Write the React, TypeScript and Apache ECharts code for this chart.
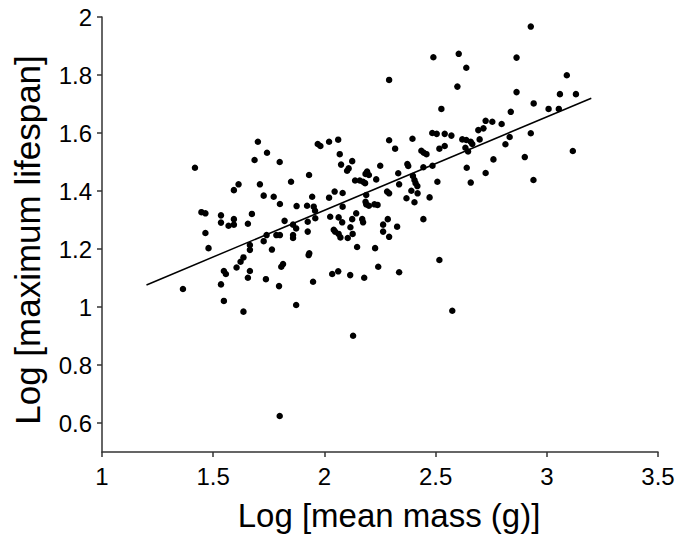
import React, { useEffect, useRef } from "react";
import * as echarts from "echarts";

const massX: number[] = [
  1.701, 1.742, 1.686, 1.799, 2.49, 2.604, 2.638, 2.291, 2.598, 2.526,
  2.725, 2.755, 2.797, 2.692, 2.715, 1.97, 1.982, 2.021, 2.062, 2.069,
  2.291, 2.318, 2.396, 2.485, 2.505, 2.541, 2.571, 2.62, 2.638, 2.658,
  2.698, 2.665, 2.517, 2.541, 2.634, 2.646, 2.436, 2.447, 2.459, 2.125,
  2.76, 2.928, 2.864, 3.09, 2.864, 3.059, 3.131, 2.941, 2.838, 3.008,
  3.054, 2.833, 2.928, 2.814, 2.901, 3.117, 1.418, 1.614, 1.593, 1.71,
  1.727, 1.772, 1.85, 1.8, 1.875, 1.447, 1.465, 1.535, 1.674, 1.593,
  1.535, 1.569, 1.593, 1.656, 1.821, 1.859, 1.873, 1.465, 1.74, 1.784,
  1.8, 1.859, 1.859, 1.665, 1.479, 1.665, 1.727, 1.764, 1.636, 1.623,
  1.605, 1.814, 1.806, 1.548, 1.557, 1.665, 1.656, 1.737, 1.535, 1.796,
  1.364, 1.548, 2.075, 2.109, 2.102, 2.251, 2.373, 2.377, 2.486, 2.445,
  2.64, 2.725, 2.658, 1.931, 2.138, 2.159, 2.174, 2.183, 2.192, 2.2,
  2.185, 2.233, 2.332, 2.398, 2.405, 2.41, 2.418, 2.336, 2.508, 2.046,
  2.082, 2.021, 1.945, 2.188, 2.282, 2.291, 2.391, 2.419, 2.369, 2.405,
  2.473, 1.922, 1.952, 1.958, 2.082, 2.185, 2.188, 2.2, 2.225, 2.239,
  1.925, 1.959, 2.026, 2.064, 2.08, 2.143, 2.125, 2.17, 2.174, 2.285,
  2.264, 2.327, 2.445, 1.925, 2.042, 2.048, 2.064, 2.072, 2.117, 2.127,
  2.105, 2.264, 2.291, 2.147, 2.228, 1.932, 1.929, 2.517, 2.242, 2.336,
  2.035, 2.062, 2.116, 2.179, 1.949, 2.94, 1.636, 1.873, 1.799, 2.129,
  2.575,
];

const lifespanY: number[] = [
  1.57, 1.532, 1.507, 1.5, 1.861, 1.873, 1.825, 1.783, 1.76, 1.683,
  1.642, 1.639, 1.631, 1.61, 1.616, 1.562, 1.555, 1.57, 1.577, 1.527,
  1.575, 1.546, 1.58, 1.6, 1.597, 1.597, 1.591, 1.578, 1.576, 1.57,
  1.578, 1.562, 1.546, 1.555, 1.549, 1.536, 1.539, 1.532, 1.527, 1.503,
  1.509, 1.967, 1.86, 1.799, 1.741, 1.734, 1.734, 1.702, 1.673, 1.683,
  1.683, 1.586, 1.599, 1.561, 1.517, 1.538, 1.48, 1.423, 1.403, 1.423,
  1.384, 1.38, 1.432, 1.355, 1.348, 1.327, 1.323, 1.316, 1.321, 1.303,
  1.291, 1.28, 1.284, 1.287, 1.297, 1.284, 1.271, 1.255, 1.248, 1.248,
  1.248, 1.248, 1.238, 1.214, 1.203, 1.197, 1.227, 1.198, 1.171, 1.156,
  1.136, 1.148, 1.139, 1.124, 1.114, 1.124, 1.101, 1.096, 1.078, 1.072,
  1.062, 1.021, 1.491, 1.478, 1.47, 1.487, 1.493, 1.486, 1.487, 1.482,
  1.48, 1.462, 1.429, 1.455, 1.436, 1.436, 1.432, 1.427, 1.467, 1.455,
  1.459, 1.44, 1.461, 1.452, 1.438, 1.427, 1.417, 1.423, 1.432, 1.398,
  1.393, 1.377, 1.38, 1.386, 1.398, 1.392, 1.401, 1.392, 1.375, 1.361,
  1.378, 1.349, 1.346, 1.332, 1.346, 1.363, 1.354, 1.349, 1.354, 1.352,
  1.294, 1.306, 1.311, 1.309, 1.292, 1.323, 1.303, 1.303, 1.292, 1.303,
  1.284, 1.277, 1.303, 1.26, 1.266, 1.26, 1.252, 1.24, 1.275, 1.252,
  1.238, 1.26, 1.242, 1.207, 1.203, 1.185, 1.179, 1.162, 1.139, 1.12,
  1.114, 1.123, 1.11, 1.101, 1.087, 1.438, 0.984, 1.007, 0.624, 0.901,
  0.987,
];

const fitX: number[] = [1.2, 3.2];
const fitY: number[] = [1.076, 1.72];

const yTickValues: number[] = [0.6, 0.8, 1, 1.2, 1.4, 1.6, 1.8, 2];

const xAxisTitle = "Log [mean mass (g)]";
const yAxisTitle = "Log [maximum lifespan]";

const FONT = "'Liberation Sans', Arial, Helvetica, sans-serif";

export default function App() {
  const ref = useRef<HTMLDivElement>(null);

  useEffect(() => {
    if (!ref.current) return;
    const chart = echarts.init(ref.current, undefined, { renderer: "svg" });
    const points = massX.map((x, i) => [x, lifespanY[i]]);
    const fit = fitX.map((x, i) => [x, fitY[i]]);
    const axisColor = "#333";
    chart.setOption({
      animation: false,
      backgroundColor: "#fff",
      grid: {
        left: 102,
        right: 27,
        top: 17,
        bottom: 86,
        outerBoundsMode: "none",
      },
      graphic: [
        {
          type: "text",
          x: 389,
          y: 515,
          style: {
            text: xAxisTitle,
            fontFamily: FONT,
            fontSize: 33,
            fill: "#000",
            align: "center",
            verticalAlign: "middle",
          },
          silent: true,
        },
        {
          type: "text",
          x: 27,
          y: 240,
          rotation: Math.PI / 2,
          style: {
            text: yAxisTitle,
            fontFamily: FONT,
            fontSize: 35,
            fill: "#000",
            align: "center",
            verticalAlign: "middle",
          },
          silent: true,
        },
      ],
      xAxis: {
        type: "value",
        min: 1,
        max: 3.5,
        interval: 0.5,
        axisLine: { show: true, lineStyle: { color: axisColor, width: 1.5 } },
        axisTick: { show: true, length: 5, lineStyle: { color: axisColor, width: 1.5 } },
        axisLabel: {
          fontFamily: FONT,
          fontSize: 24,
          color: "#000",
          margin: 12,
          showMinLabel: true,
          showMaxLabel: true,
        },
        splitLine: { show: false },
      },
      yAxis: {
        type: "value",
        min: 0.5,
        max: 2,
        axisLine: { show: true, lineStyle: { color: axisColor, width: 1.5 } },
        axisTick: {
          show: true,
          length: 5,
          customValues: yTickValues,
          lineStyle: { color: axisColor, width: 1.5 },
        },
        axisLabel: {
          fontFamily: FONT,
          fontSize: 24,
          color: "#000",
          margin: 10,
          customValues: yTickValues,
        },
        splitLine: { show: false },
      },
      series: [
        {
          type: "scatter",
          data: points,
          symbol: "circle",
          symbolSize: 6.5,
          itemStyle: { color: "#000", opacity: 1 },
          silent: true,
        },
        {
          type: "line",
          data: fit,
          showSymbol: false,
          symbol: "none",
          lineStyle: { color: "#000", width: 1.5 },
          silent: true,
        },
      ],
    });
    return () => chart.dispose();
  }, []);

  return (
    <div
      ref={ref}
      style={{ position: "fixed", left: 0, top: 0, width: 685, height: 538 }}
    />
  );
}
